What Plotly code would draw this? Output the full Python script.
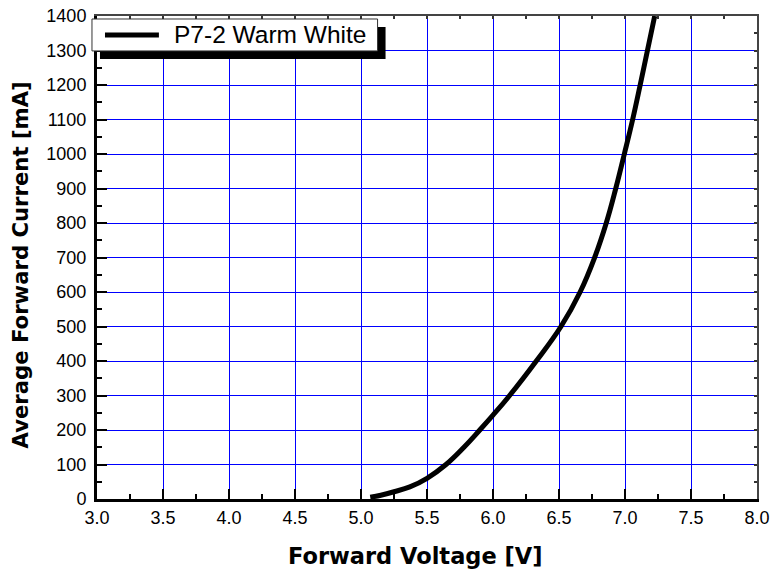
import plotly.graph_objects as go

# Forward voltage (V) vs. average forward current (mA), P7-2 Warm White
voltage = [5.07, 5.15, 5.25, 5.37, 5.50, 5.644, 5.78, 5.90, 6.00, 6.126, 6.328, 6.515,
           6.66, 6.77, 6.858, 6.93, 6.995, 7.058, 7.115, 7.17, 7.225]
current = [5, 11, 21, 35, 60, 100, 150, 200, 243, 300, 400, 500,
           600, 700, 800, 900, 1000, 1100, 1200, 1300, 1400]
series_name = "P7-2 Warm White"

x_ticks = [3.0, 3.5, 4.0, 4.5, 5.0, 5.5, 6.0, 6.5, 7.0, 7.5, 8.0]
y_ticks = list(range(0, 1401, 100))

tick_font = dict(family="Liberation Sans, Arial", size=18, color="black")

fig = go.Figure()
fig.add_trace(go.Scatter(
    x=voltage, y=current, mode="lines", name=series_name,
    line=dict(color="black", width=5, shape="spline", smoothing=1.2),
    showlegend=False,
))
# invisible trace that activates the mirror axes on top/right
fig.add_trace(go.Scatter(x=[3, 8], y=[0, 1400], xaxis="x2", yaxis="y2",
                         mode="none", showlegend=False, hoverinfo="skip"))

fig.update_layout(
    width=771, height=571,
    margin=dict(l=97, r=14, t=16, b=72, autoexpand=False),
    plot_bgcolor="white", paper_bgcolor="white",
    xaxis=dict(
        range=[3, 8], tickvals=x_ticks, ticktext=[f"{v:.1f}" for v in x_ticks],
        ticks="inside", ticklen=10, tickwidth=2, tickcolor="black",
        minor=dict(dtick=0.25, tick0=3, ticks="inside", ticklen=5, tickwidth=2,
                   tickcolor="black", showgrid=False),
        showgrid=True, gridcolor="#0000ff", gridwidth=1,
        showline=True, linecolor="black", linewidth=3,
        zeroline=False, tickfont=tick_font, automargin=False,
        title=dict(text="<b>Forward Voltage [V]&nbsp;&nbsp;&nbsp;</b>",
                   font=dict(family="DejaVu Sans, Verdana", size=22.5, color="black"),
                   standoff=22),
    ),
    yaxis=dict(
        range=[0, 1400], tickvals=y_ticks,
        ticks="inside", ticklen=10, tickwidth=2, tickcolor="black",
        minor=dict(dtick=50, tick0=0, ticks="inside", ticklen=5, tickwidth=2,
                   tickcolor="black", showgrid=False),
        showgrid=True, gridcolor="#0000ff", gridwidth=1,
        showline=True, linecolor="black", linewidth=3,
        zeroline=False, tickfont=tick_font, automargin=False,
        ticklabelstandoff=4,
        title=dict(text="<b>Average Forward Current [mA]&nbsp;&nbsp;</b>",
                   font=dict(family="DejaVu Sans, Verdana", size=21.2, color="black"),
                   standoff=12),
    ),
    xaxis2=dict(
        range=[3, 8], overlaying="x", side="top", anchor="y2",
        tickvals=x_ticks, ticks="inside", ticklen=3, tickwidth=1.5, tickcolor="#333333",
        minor=dict(dtick=0.25, tick0=3, ticks="inside", ticklen=3, tickwidth=1.5,
                   tickcolor="#333333", showgrid=False),
        showticklabels=False, showgrid=False, zeroline=False, automargin=False,
        showline=True, linecolor="#444444", linewidth=2,
    ),
    yaxis2=dict(
        range=[0, 1400], overlaying="y", side="right", anchor="x2",
        tickvals=y_ticks, ticks="inside", ticklen=3, tickwidth=1.5, tickcolor="#333333",
        minor=dict(dtick=50, tick0=0, ticks="inside", ticklen=3, tickwidth=1.5,
                   tickcolor="#333333", showgrid=False),
        showticklabels=False, showgrid=False, zeroline=False, automargin=False,
        showline=True, linecolor="#444444", linewidth=2,
    ),
)

# legend box with drop shadow
fig.add_shape(type="rect", xref="paper", yref="paper",
              x0=0.0045, x1=0.4372, y0=0.9112, y1=0.9773,
              fillcolor="black", line=dict(width=0), layer="above")
fig.add_shape(type="rect", xref="paper", yref="paper",
              x0=-0.0076, x1=0.4251, y0=0.9277, y1=0.9938,
              fillcolor="white", line=dict(color="#333333", width=1), layer="above")
fig.add_shape(type="line", xref="paper", yref="paper",
              x0=0.0121, x1=0.0938, y0=0.9607, y1=0.9607,
              line=dict(color="black", width=5), layer="above")
fig.add_annotation(text=series_name, xref="paper", yref="paper",
                   x=0.1135, y=0.9607, xanchor="left", yanchor="middle",
                   showarrow=False,
                   font=dict(family="Liberation Sans, Arial", size=24.5, color="black"))

fig.write_html("out.html")
